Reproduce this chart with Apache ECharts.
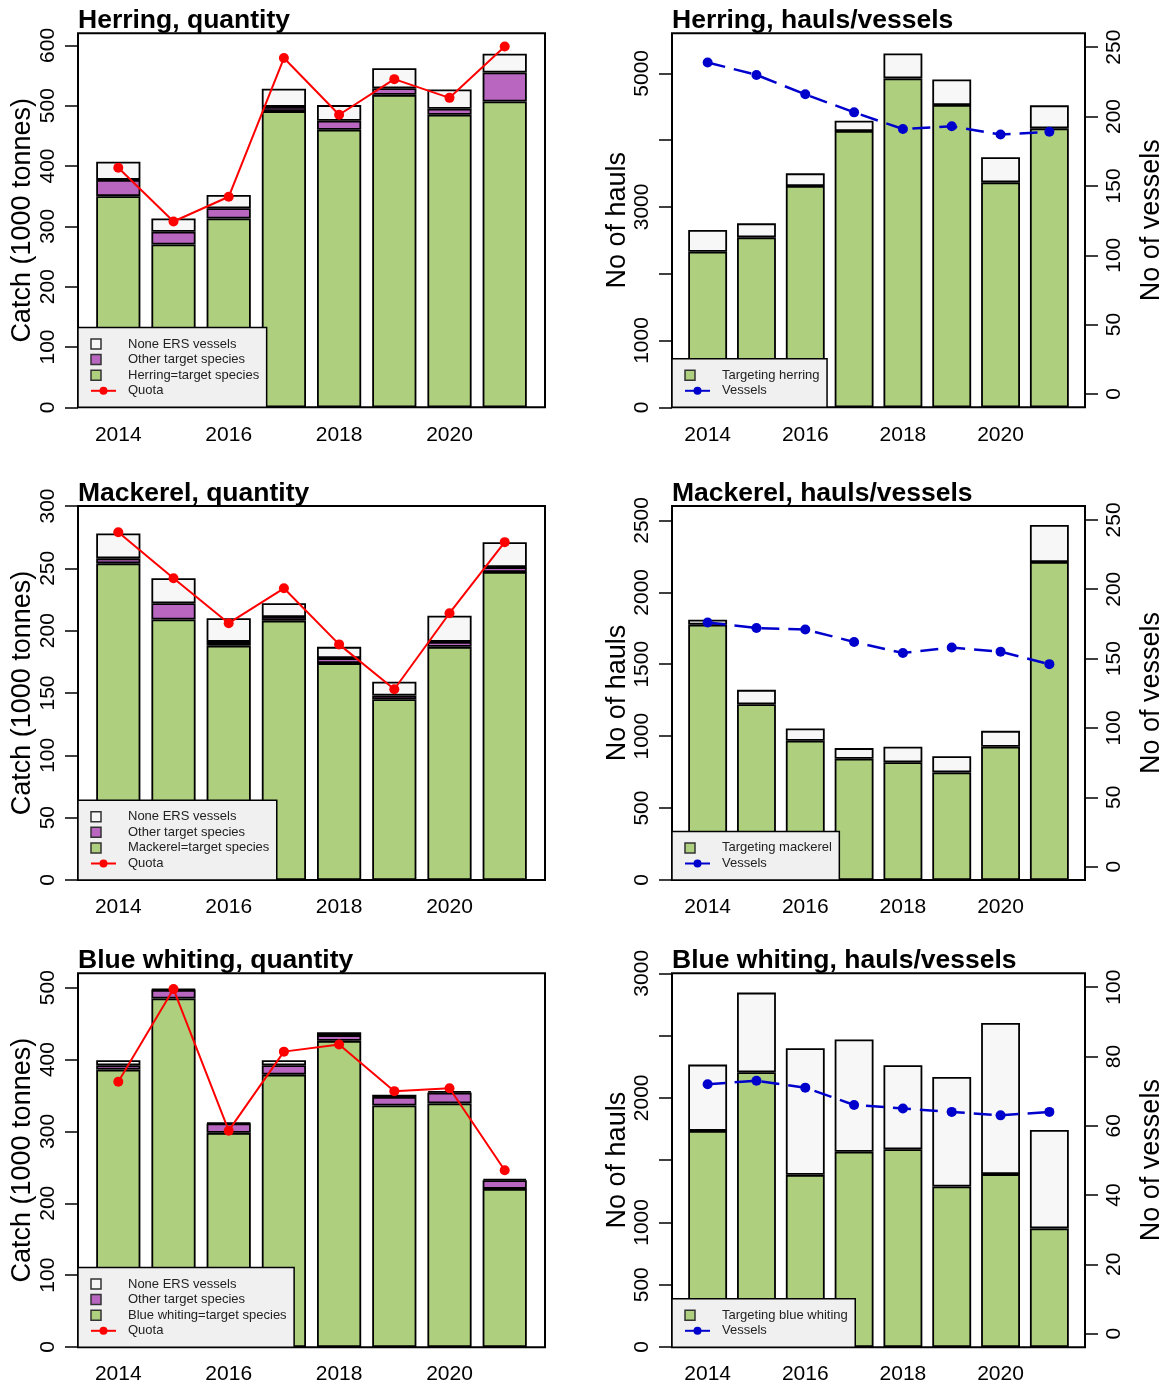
<!DOCTYPE html>
<html><head><meta charset="utf-8">
<script src="https://cdn.jsdelivr.net/npm/echarts@6/dist/echarts.min.js"></script>
<style>html,body{margin:0;padding:0;background:#fff}#c{width:1168px;height:1385px}</style>
</head><body><div id="c"></div>
<script>
// ---------------- data ----------------
const years = ['2014','2015','2016','2017','2018','2019','2020','2021'];

// Herring, quantity (1000 tonnes)
const herringTarget = [350, 270, 313, 491, 460, 518, 485, 507];
const herringOther  = [27, 21, 17, 7, 15, 11, 10, 48];
const herringNone   = [30, 22, 22, 30, 26, 33, 32, 31];
const herringQuota  = [397, 308, 349, 579, 485, 544, 513, 598];
// Herring, hauls / vessels
const herringHaulsTarget = [2330, 2545, 3313, 4137, 4925, 4526, 3368, 4177];
const herringHaulsOther  = [325, 209, 190, 154, 374, 384, 375, 344];
const herringVessels     = [239, 230, 216, 203, 191, 193, 187, 189];

// Mackerel, quantity
const mackerelTarget = [254, 209, 188, 208, 174, 145, 187, 247];
const mackerelOther  = [4, 13, 3, 3, 4, 3, 4, 4];
const mackerelNone   = [20, 20, 19, 11, 9, 11, 21, 20];
const mackerelQuota  = [279, 242, 206, 234, 189, 153, 214, 271];
// Mackerel, hauls / vessels
const mackerelHaulsTarget = [1775, 1222, 968, 843, 819, 748, 926, 2211];
const mackerelHaulsOther  = [35, 100, 85, 74, 107, 113, 111, 257];
const mackerelVessels     = [176, 172, 171, 162, 154, 158, 155, 146];

// Blue whiting, quantity
const bwTarget = [386, 485, 298, 379, 426, 336, 339, 220];
const bwOther  = [6, 12, 13, 13, 8, 12, 15, 12];
const bwNone   = [7, 1, 1, 7, 4, 3, 2, 2];
const bwQuota  = [369, 498, 301, 411, 421, 356, 360, 246];
// Blue whiting, hauls / vessels
const bwHaulsTarget = [1735, 2206, 1382, 1567, 1588, 1289, 1388, 952];
const bwHaulsOther  = [532, 639, 1016, 901, 674, 879, 1214, 791];
const bwVessels     = [72, 73, 71, 66, 65, 64, 63, 64];

// tick marks / tick labels
const herringQtyTicks = [0, 100, 200, 300, 400, 500, 600];
const mackerelQtyTicks = [0, 50, 100, 150, 200, 250, 300];
const bwQtyTicks = [0, 100, 200, 300, 400, 500];
const herringHaulTicks = [0, 1000, 2000, 3000, 4000, 5000];
const herringHaulLabels = [0, 1000, 3000, 5000];
const mackerelHaulTicks = [0, 500, 1000, 1500, 2000, 2500];
const bwHaulTicks = [0, 500, 1000, 1500, 2000, 2500, 3000];
const bwHaulLabels = [0, 500, 1000, 2000, 3000];
const vesselTicks250 = [0, 50, 100, 150, 200, 250];
const vesselTicks100 = [0, 20, 40, 60, 80, 100];

// ---------------- style / layout ----------------
const F = 'Liberation Sans, Arial, sans-serif';
const GREEN = '#aecf7e', PURPLE = '#b966c1', WHITE = '#f7f7f7', RED = '#ff0000', BLUE = '#0000cd';
const SQ = 'path://M0,0L10,0L10,10L0,10Z M25,0 M25,10';
const CH = 1385;
const boxes = {
  left:  {x: 78,  w: 467},
  right: {x: 672, w: 413}
};
const rowTop = [33.3, 506, 973.3];
const BOX_H = 374;
const BW = 1.8;

const panels = [
  {side:'left', row:0, title:'Herring, quantity', ymax:620, ticks:herringQtyTicks, labels:herringQtyTicks,
   target:herringTarget, other:herringOther, none:herringNone, quota:herringQuota, tname:'Herring=target species'},
  {side:'right', row:0, title:'Herring, hauls/vessels', ymax:5600, ticks:herringHaulTicks, labels:herringHaulLabels,
   target:herringHaulsTarget, other:herringHaulsOther, vessels:herringVessels, tname:'Targeting herring',
   vmin:-9.6, vmax:260, vticks:vesselTicks250},
  {side:'left', row:1, title:'Mackerel, quantity', ymax:300, ticks:mackerelQtyTicks, labels:mackerelQtyTicks,
   target:mackerelTarget, other:mackerelOther, none:mackerelNone, quota:mackerelQuota, tname:'Mackerel=target species'},
  {side:'right', row:1, title:'Mackerel, hauls/vessels', ymax:2600, ticks:mackerelHaulTicks, labels:mackerelHaulTicks,
   target:mackerelHaulsTarget, other:mackerelHaulsOther, vessels:mackerelVessels, tname:'Targeting mackerel',
   vmin:-9.6, vmax:260, vticks:vesselTicks250},
  {side:'left', row:2, title:'Blue whiting, quantity', ymax:520, ticks:bwQtyTicks, labels:bwQtyTicks,
   target:bwTarget, other:bwOther, none:bwNone, quota:bwQuota, tname:'Blue whiting=target species'},
  {side:'right', row:2, title:'Blue whiting, hauls/vessels', ymax:3000, ticks:bwHaulTicks, labels:bwHaulLabels,
   target:bwHaulsTarget, other:bwHaulsOther, vessels:bwVessels, tname:'Targeting blue whiting',
   vmin:-3.85, vmax:104, vticks:vesselTicks100}
];

const grid = [], xAxis = [], yAxis = [], series = [], title = [], legend = [];

function yAx(gi, pos, min, max, ticks, labels, name, gap, offset) {
  return {
    gridIndex: gi, type: 'value', position: pos, min: min, max: max, offset: offset,
    name: name, nameLocation: 'middle', nameGap: gap, nameRotate: 90,
    nameTextStyle: {fontSize: 27, color: '#000', fontFamily: F},
    axisLine: {show: false}, splitLine: {show: false},
    axisTick: {show: true, inside: false, length: 13, customValues: ticks, lineStyle: {color: '#000', width: 1.5}},
    axisLabel: {rotate: 90, margin: 19, fontSize: 21, color: '#000', fontFamily: F, customValues: labels,
      formatter: function (v) { return String(v); }}
  };
}

function legendBase(b, top) {
  return {left: b.x, bottom: CH - (top + BOX_H), orient: 'vertical', selectedMode: false,
    itemWidth: 25, itemHeight: 10, itemGap: 2.6, padding: [10, 7.5, 10, 12],
    backgroundColor: '#f0f0f0', borderColor: '#000', borderWidth: 1.5, z: 10,
    textStyle: {fontSize: 13, color: '#222', fontFamily: F, padding: [0, 0, 0, 7]}};
}

panels.forEach(function (p, i) {
  const b = boxes[p.side];
  const top = rowTop[p.row];
  const pad = b.w * 0.02719;          // space between box edge and first category band
  const dataW = b.w * 0.94563;        // 8 category bands
  const barW = b.w * 0.0985 - BW;
  const gi = grid.length;
  grid.push({left: b.x + pad, top: top, width: dataW, height: BOX_H, show: false});
  grid.push({left: b.x, top: top, width: b.w, height: BOX_H, show: true, borderColor: '#000', borderWidth: 2,
             backgroundColor: 'transparent', z: 4});
  const xi = xAxis.length;
  xAxis.push({gridIndex: gi, type: 'category', data: years,
    axisLine: {show: false}, axisTick: {show: false},
    axisLabel: {interval: 1, fontSize: 21, color: '#000', margin: 17, fontFamily: F}});
  xAxis.push({gridIndex: gi + 1, type: 'value', show: false, min: 0, max: 1});
  const yi = yAxis.length;
  yAxis.push(yAx(gi, 'left', 0, p.ymax, p.ticks, p.labels,
    p.side === 'left' ? 'Catch (1000 tonnes)' : 'No of hauls', p.side === 'left' ? 42 : 40, pad));
  let vi = null;
  if (p.side === 'right') {
    vi = yAxis.length;
    yAxis.push(yAx(gi, 'right', p.vmin, p.vmax, p.vticks, p.vticks, 'No of vessels', 53, pad));
  }
  yAxis.push({gridIndex: gi + 1, type: 'value', show: false, min: 0, max: 1});

  title.push({text: p.title, left: b.x, top: top - 26, padding: 0,
    textStyle: {fontSize: 26.5, fontWeight: 'bold', color: '#000', fontFamily: F}});

  const stack = 'st' + i;
  const barBase = {type: 'bar', xAxisIndex: xi, yAxisIndex: yi, stack: stack, barWidth: barW,
    animation: false, emphasis: {disabled: true}};
  series.push(Object.assign({}, barBase, {name: p.tname, data: p.target,
    itemStyle: {color: GREEN, borderColor: '#000', borderWidth: BW}}));
  if (p.side === 'left') {
    series.push(Object.assign({}, barBase, {name: 'Other target species', data: p.other,
      itemStyle: {color: PURPLE, borderColor: '#000', borderWidth: BW}}));
    series.push(Object.assign({}, barBase, {name: 'None ERS vessels', data: p.none,
      itemStyle: {color: WHITE, borderColor: '#000', borderWidth: BW}}));
    series.push({type: 'line', name: 'Quota', xAxisIndex: xi, yAxisIndex: yi, data: p.quota,
      symbol: 'circle', symbolSize: 10, z: 5, animation: false,
      itemStyle: {color: RED}, lineStyle: {color: RED, width: 2}, emphasis: {disabled: true}});
    legend.push(Object.assign(legendBase(b, top), {
      data: [
        {name: 'None ERS vessels', icon: SQ, itemStyle: {borderColor: '#333', borderWidth: 1.5}},
        {name: 'Other target species', icon: SQ, itemStyle: {borderColor: '#333', borderWidth: 1.5}},
        {name: p.tname, icon: SQ, itemStyle: {borderColor: '#333', borderWidth: 1.5}},
        {name: 'Quota'}
      ]}));
  } else {
    series.push(Object.assign({}, barBase, {name: 'Non-targeting hauls', data: p.other,
      itemStyle: {color: WHITE, borderColor: '#000', borderWidth: BW}}));
    series.push({type: 'line', name: 'Vessels', xAxisIndex: xi, yAxisIndex: vi, data: p.vessels,
      symbol: 'circle', symbolSize: 10, z: 5, animation: false,
      itemStyle: {color: BLUE}, lineStyle: {color: BLUE, width: 2.5, type: [18, 9]}, emphasis: {disabled: true}});
    legend.push(Object.assign(legendBase(b, top), {
      data: [
        {name: p.tname, icon: SQ, itemStyle: {borderColor: '#333', borderWidth: 1.5}},
        {name: 'Vessels', lineStyle: {type: 'solid'}}
      ]}));
  }
});

const chart = echarts.init(document.getElementById('c'), null, {renderer: 'canvas'});
chart.setOption({
  animation: false,
  backgroundColor: '#fff',
  title: title, grid: grid, xAxis: xAxis, yAxis: yAxis, legend: legend, series: series
});
</script>
</body></html>
